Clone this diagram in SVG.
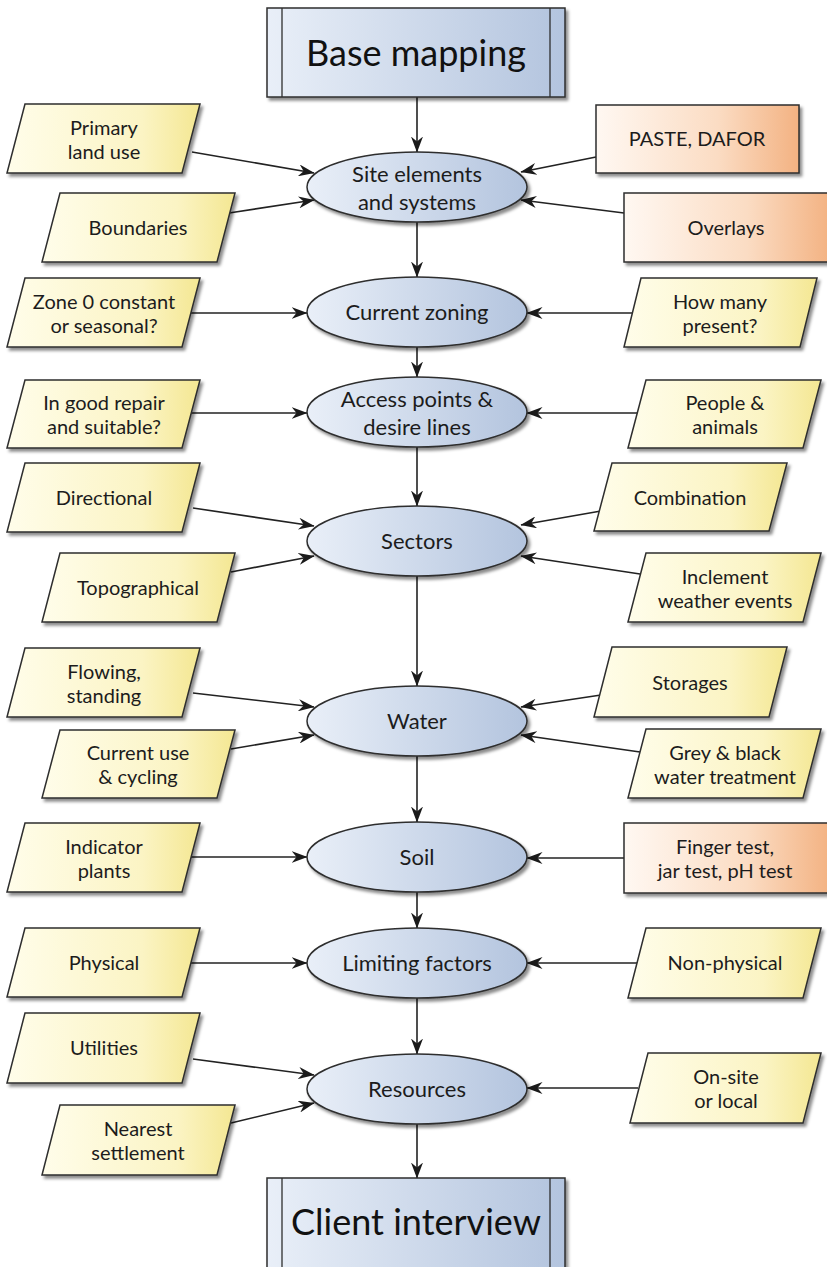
<svg xmlns="http://www.w3.org/2000/svg" width="827" height="1267" viewBox="0 0 827 1267">
<defs>
<linearGradient id="gb" x1="0" y1="0" x2="1" y2="0"><stop offset="0" stop-color="#e9eff8"/><stop offset="1" stop-color="#b3c4de"/></linearGradient>
<linearGradient id="gy" x1="0" y1="0" x2="1" y2="0"><stop offset="0" stop-color="#fffdea"/><stop offset="0.7" stop-color="#fbf4c4"/><stop offset="1" stop-color="#f4e792"/></linearGradient>
<linearGradient id="go" x1="0" y1="0" x2="1" y2="0"><stop offset="0" stop-color="#fff8f2"/><stop offset="0.6" stop-color="#fbdcc3"/><stop offset="1" stop-color="#f3b282"/></linearGradient>
<filter id="sh" x="-10%" y="-10%" width="125%" height="135%"><feDropShadow dx="2.5" dy="3" stdDeviation="1.5" flood-color="#000" flood-opacity="0.45"/></filter>
<marker id="ah" viewBox="0 0 16 12" refX="15.5" refY="6" markerWidth="16" markerHeight="12" markerUnits="userSpaceOnUse" orient="auto"><path d="M0,0 L16,6 L0,12 L5,6 z" fill="#1a1a1a"/></marker>
<style>
.s{stroke:#2e2e2e;stroke-width:1.5;filter:url(#sh)}
.y{fill:url(#gy)}.o{fill:url(#go)}.b{fill:url(#gb)}
.l{stroke:#2e2e2e;stroke-width:1.3}
text{font-family:Lato,"Open Sans","Liberation Sans",sans-serif;fill:#1c1c1c;text-anchor:middle;font-size:20px}
.e{font-size:22px}
.big{font-size:36px;fill:#111}
.c{stroke:#222;stroke-width:1.6;fill:none;marker-end:url(#ah)}
</style>
</defs>

<g id="connectors">
<line class="c" x1="417" y1="97" x2="417" y2="152"/>
<line class="c" x1="417" y1="222" x2="417" y2="277"/>
<line class="c" x1="417" y1="347" x2="417" y2="377"/>
<line class="c" x1="417" y1="447" x2="417" y2="506"/>
<line class="c" x1="417" y1="576" x2="417" y2="686"/>
<line class="c" x1="417" y1="756" x2="417" y2="822"/>
<line class="c" x1="417" y1="892" x2="417" y2="928"/>
<line class="c" x1="417" y1="998" x2="417" y2="1054"/>
<line class="c" x1="417" y1="1124" x2="417" y2="1178"/>
<line class="c" x1="192" y1="152" x2="314" y2="173"/>
<line class="c" x1="229" y1="213" x2="314" y2="200"/>
<line class="c" x1="596" y1="157" x2="521" y2="172"/>
<line class="c" x1="624" y1="213" x2="521" y2="200"/>
<line class="c" x1="191" y1="313" x2="307" y2="313"/>
<line class="c" x1="632" y1="313" x2="527" y2="313"/>
<line class="c" x1="191" y1="413" x2="307" y2="413"/>
<line class="c" x1="638" y1="413" x2="527" y2="413"/>
<line class="c" x1="193" y1="508" x2="314" y2="526"/>
<line class="c" x1="601" y1="511" x2="521" y2="525"/>
<line class="c" x1="231" y1="572" x2="314" y2="556"/>
<line class="c" x1="640" y1="574" x2="521" y2="556"/>
<line class="c" x1="193" y1="693" x2="314" y2="707"/>
<line class="c" x1="601" y1="695" x2="521" y2="707"/>
<line class="c" x1="231" y1="749" x2="314" y2="735"/>
<line class="c" x1="640" y1="752" x2="521" y2="735"/>
<line class="c" x1="191" y1="857" x2="307" y2="857"/>
<line class="c" x1="624" y1="858" x2="527" y2="858"/>
<line class="c" x1="191" y1="963" x2="307" y2="963"/>
<line class="c" x1="638" y1="963" x2="527" y2="963"/>
<line class="c" x1="193" y1="1059" x2="314" y2="1075"/>
<line class="c" x1="231" y1="1123" x2="314" y2="1103"/>
<line class="c" x1="638" y1="1088" x2="527" y2="1088"/>
</g>

<g id="base-mapping">
<rect class="s b" x="267" y="8" width="298" height="89"/>
<line class="l" x1="282" y1="8" x2="282" y2="97"/><line class="l" x1="550" y1="8" x2="550" y2="97"/>
<text class="big" x="416" y="66">Base mapping</text>
</g>

<g id="site-elements"><ellipse class="s b" cx="417" cy="187" rx="110" ry="35"/><text class="e" x="417" y="182">Site elements</text><text class="e" x="417" y="210">and systems</text></g>
<g id="current-zoning"><ellipse class="s b" cx="417" cy="312" rx="110" ry="35"/><text class="e" x="417" y="320">Current zoning</text></g>
<g id="access-points"><ellipse class="s b" cx="417" cy="412" rx="110" ry="35"/><text class="e" x="417" y="407">Access points &amp;</text><text class="e" x="417" y="435">desire lines</text></g>
<g id="sectors"><ellipse class="s b" cx="417" cy="541" rx="110" ry="35"/><text class="e" x="417" y="549">Sectors</text></g>
<g id="water"><ellipse class="s b" cx="417" cy="721" rx="110" ry="35"/><text class="e" x="417" y="729">Water</text></g>
<g id="soil"><ellipse class="s b" cx="417" cy="857" rx="110" ry="35"/><text class="e" x="417" y="865">Soil</text></g>
<g id="limiting-factors"><ellipse class="s b" cx="417" cy="963" rx="110" ry="35"/><text class="e" x="417" y="971">Limiting factors</text></g>
<g id="resources"><ellipse class="s b" cx="417" cy="1089" rx="110" ry="35"/><text class="e" x="417" y="1097">Resources</text></g>

<g id="client-interview">
<rect class="s b" x="267" y="1178" width="298" height="100"/>
<line class="l" x1="282" y1="1178" x2="282" y2="1270"/><line class="l" x1="550" y1="1178" x2="550" y2="1270"/>
<text class="big" x="416" y="1235">Client interview</text>
</g>

<g id="primary-land-use"><polygon class="s y" points="25,104 200,104 182,173 7,173"/><text x="104" y="135">Primary</text><text x="104" y="159">land use</text></g>
<g id="boundaries"><polygon class="s y" points="60,193 235,193 217,262 42,262"/><text x="138" y="235">Boundaries</text></g>
<g id="paste-dafor"><rect class="s o" x="596" y="105" width="203" height="68"/><text x="697" y="146">PASTE, DAFOR</text></g>
<g id="overlays"><rect class="s o" x="624" y="193" width="206" height="69"/><text x="726" y="235">Overlays</text></g>

<g id="zone-0"><polygon class="s y" points="25,278 200,278 182,347 7,347"/><text x="104" y="309">Zone 0 constant</text><text x="104" y="333">or seasonal?</text></g>
<g id="how-many"><polygon class="s y" points="641,278 817,278 800,347 624,347"/><text x="720" y="309">How many</text><text x="720" y="333">present?</text></g>

<g id="good-repair"><polygon class="s y" points="25,380 200,380 182,448 7,448"/><text x="104" y="410">In good repair</text><text x="104" y="434">and suitable?</text></g>
<g id="people-animals"><polygon class="s y" points="646,380 821,380 803,448 628,448"/><text x="725" y="410">People &amp;</text><text x="725" y="434">animals</text></g>

<g id="directional"><polygon class="s y" points="25,463 200,463 182,532 7,532"/><text x="104" y="505">Directional</text></g>
<g id="combination"><polygon class="s y" points="612,463 787,463 769,531 594,531"/><text x="690" y="505">Combination</text></g>
<g id="topographical"><polygon class="s y" points="60,553 235,553 217,622 42,622"/><text x="138" y="595">Topographical</text></g>
<g id="inclement"><polygon class="s y" points="646,553 821,553 803,622 628,622"/><text x="725" y="584">Inclement</text><text x="725" y="608">weather events</text></g>

<g id="flowing"><polygon class="s y" points="25,648 200,648 182,717 7,717"/><text x="104" y="679">Flowing,</text><text x="104" y="703">standing</text></g>
<g id="storages"><polygon class="s y" points="612,647 787,647 769,717 594,717"/><text x="690" y="690">Storages</text></g>
<g id="current-use"><polygon class="s y" points="60,730 235,730 217,798 42,798"/><text x="138" y="760">Current use</text><text x="138" y="784">&amp; cycling</text></g>
<g id="grey-black"><polygon class="s y" points="646,729 821,729 803,798 628,798"/><text x="725" y="760">Grey &amp; black</text><text x="725" y="784">water treatment</text></g>

<g id="indicator-plants"><polygon class="s y" points="25,823 200,823 182,892 7,892"/><text x="104" y="854">Indicator</text><text x="104" y="878">plants</text></g>
<g id="finger-test"><rect class="s o" x="624" y="823" width="206" height="70"/><text x="725" y="854">Finger test,</text><text x="725" y="878">jar test, pH test</text></g>

<g id="physical"><polygon class="s y" points="25,928 200,928 182,997 7,997"/><text x="104" y="970">Physical</text></g>
<g id="non-physical"><polygon class="s y" points="646,928 821,928 803,998 628,998"/><text x="725" y="970">Non-physical</text></g>

<g id="utilities"><polygon class="s y" points="25,1013 200,1013 182,1083 7,1083"/><text x="104" y="1055">Utilities</text></g>
<g id="nearest-settlement"><polygon class="s y" points="60,1105 235,1105 217,1175 42,1175"/><text x="138" y="1136">Nearest</text><text x="138" y="1160">settlement</text></g>
<g id="on-site"><polygon class="s y" points="648,1053 821,1053 803,1123 630,1123"/><text x="726" y="1084">On-site</text><text x="726" y="1108">or local</text></g>
</svg>
